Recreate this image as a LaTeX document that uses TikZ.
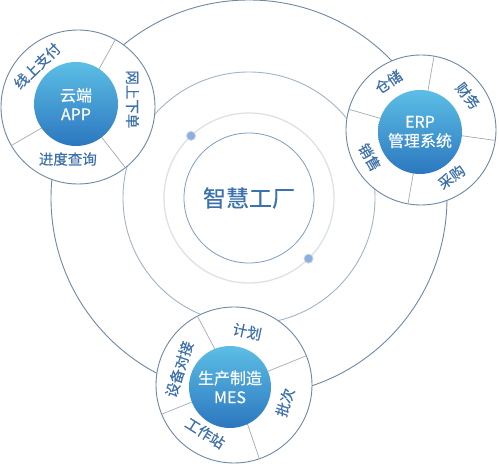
\documentclass[tikz,border=0pt]{standalone}
\usepackage{fontspec}
\setmainfont[FakeBold=0.35]{Noto Sans CJK SC}
\definecolor{ringc}{HTML}{6F88A3}
\definecolor{midc}{HTML}{A3B4C5}
\definecolor{secc}{HTML}{DCE2E7}
\definecolor{innc}{HTML}{7C9CBF}
\definecolor{divc}{HTML}{A3ABB3}
\definecolor{lblc}{HTML}{3D70AA}
\definecolor{ctrc}{HTML}{3B72AE}
\definecolor{coretop}{HTML}{5CBEE5}
\definecolor{corebot}{HTML}{2C77BF}
\definecolor{dotf}{HTML}{8EAEDB}
\definecolor{dotd}{HTML}{C3D4EA}
\begin{document}
\begin{tikzpicture}[x=1pt,y=1pt,
  bigring/.style={circle,draw=#1,inner sep=0pt,outer sep=0pt},
  ring/.style={circle,draw=ringc,line width=0.9pt,fill=white,inner sep=0pt,outer sep=0pt},
  divider/.style={draw=divc,line width=0.7pt},
  core/.style={circle,inner sep=0pt,minimum size=84pt,top color=coretop,bottom color=corebot,
    text=white,align=center,font=\fontsize{16}{19}\selectfont},
  lbl/.style={text=lblc,inner sep=0pt,font=\fontsize{14.5}{14.5}\selectfont},
  dotnode/.style={circle,fill=dotf,draw=dotd,line width=0.8pt,inner sep=0pt,minimum size=9pt}]
\useasboundingbox (0,0) rectangle (499,464);
\fill[white] (0,0) rectangle (499,464);
% central system
\coordinate (C) at (249,266);
\node[bigring=ringc,line width=0.9pt,minimum size=396pt] (outer) at (C) {};
\node[bigring=midc,line width=0.9pt,minimum size=252pt] (mid) at (C) {};
\node[bigring=secc,line width=1.3pt,minimum size=170pt] (sec) at (C) {};
\node[dotnode] (d1) at ([shift={(133:85)}]C) {};
\node[dotnode] (d2) at ([shift={(-45.5:85)}]C) {};
\node[bigring=innc,line width=0.8pt,minimum size=130pt,text=ctrc,
  font=\fontsize{23}{23}\selectfont] (hub) at (C) {智慧工厂};
% rings
\node[ring,minimum size=154pt] (appring) at (78,357) {};
\node[ring,minimum size=150pt] (erpring) at (421,334) {};
\node[ring,minimum size=156pt] (mesring) at (234,79) {};
% dividers
\foreach \a in {61,-52,210} \draw[divider] (appring.center) -- (appring.\a);
\foreach \a in {80,-8,-100,164} \draw[divider] (erpring.center) -- (erpring.\a);
\foreach \a in {118,22,-71,-158} \draw[divider] (mesring.center) -- (mesring.\a);
% cores
\node[core] (app) at (76,360) {云端\\APP};
\node[core] (erp) at (420,332) {ERP\\管理系统};
\node[core,minimum size=82pt] (mes) at (230,77) {生产制造\\MES};
% APP labels
\node[lbl,rotate=44] (a1) at ([shift={(135:58)}]appring.center) {线上支付};
\node[lbl,rotate=-90] (a2) at ([shift={(8:55)}]appring.center) {网上下单};
\node[lbl] (a3) at ([shift={(-101:53)}]appring.center) {进度查询};
% ERP labels
\node[lbl,rotate=34] (e1) at ([shift={(124:58)}]erpring.center) {仓储};
\node[lbl,rotate=-52] (e2) at ([shift={(36:58)}]erpring.center) {财务};
\node[lbl,rotate=36] (e3) at ([shift={(-57:56)}]erpring.center) {采购};
\node[lbl,rotate=-60] (e4) at ([shift={(-152:58)}]erpring.center) {销售};
% MES labels
\node[lbl,rotate=-12] (m1) at ([shift={(76:55)}]mesring.center) {计划};
\node[lbl,rotate=72] (m2) at ([shift={(-19:54)}]mesring.center) {批次};
\node[lbl,rotate=-32] (m3) at ([shift={(-121:56)}]mesring.center) {工作站};
\node[lbl,rotate=72] (m4) at ([shift={(164:57)}]mesring.center) {设备对接};
\end{tikzpicture}
\end{document}
